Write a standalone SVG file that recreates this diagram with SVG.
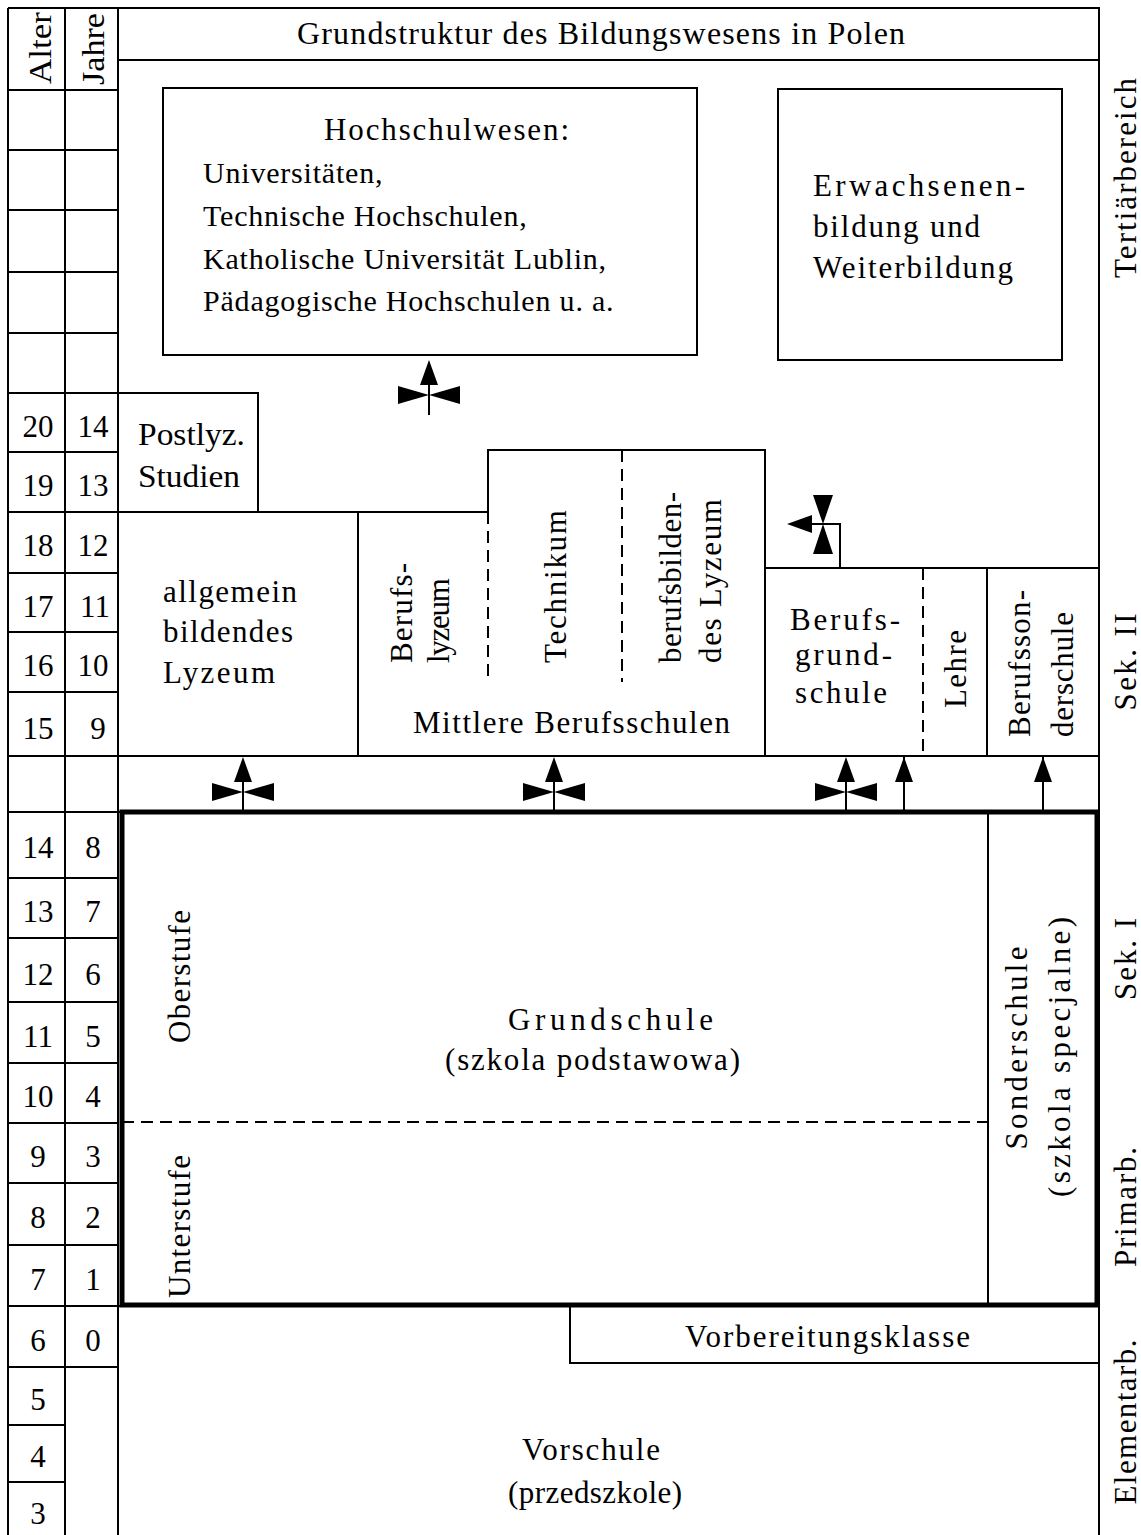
<svg xmlns="http://www.w3.org/2000/svg" width="1141" height="1535" viewBox="0 0 1141 1535">
<style>
.ln{stroke:#000;stroke-width:2;fill:none}
.dash{stroke:#000;stroke-width:2;fill:none;stroke-dasharray:12 7}
.thick{stroke:#000;stroke-width:5;fill:none}
text{font-family:"Liberation Serif","Times New Roman",serif;font-size:31px;fill:#000}
.num{font-size:31px;text-anchor:middle}
.c{text-anchor:middle}
.hs{font-size:30px;letter-spacing:0.8px}
.ah{fill:#000;stroke:none}
</style>
<defs>
<g id="xarrow">
<line x1="0" y1="-22" x2="0" y2="20" stroke="#000" stroke-width="2"/>
<polygon class="ah" points="0,-35 -9,-10 9,-10"/>
<polygon class="ah" points="-31,-9 -31,9 0,0"/>
<polygon class="ah" points="31,-9 31,9 0,0"/>
</g>
<g id="uparrow">
<line x1="0" y1="-30" x2="0" y2="25" stroke="#000" stroke-width="2"/>
<polygon class="ah" points="0,-30 -9,-5 9,-5"/>
</g>
</defs>
<rect x="0" y="0" width="1141" height="1535" fill="#fff"/>

<g id="frame">
<path class="ln" d="M8,8 H1099 V1535 M8,8 V1535 M65,8 V1535 M118,8 V1535 M118,60 H1099"/>
<path class="ln" d="M8,90 H118 M8,150 H118 M8,210 H118 M8,272 H118 M8,333 H118 M8,393 H118 M8,452 H118 M8,512 H118 M8,573 H118 M8,632 H118 M8,692 H118 M8,756 H1099 M8,812 H122 M8,878 H118 M8,938 H118 M8,1002 H118 M8,1063 H118 M8,1123 H118 M8,1183 H118 M8,1245 H118 M8,1306 H122 M8,1367 H118 M8,1425 H65 M8,1482 H65"/>
<text class="c" transform="translate(51,48) rotate(-90)" textLength="72" lengthAdjust="spacingAndGlyphs">Alter</text>
<text class="c" transform="translate(104,49) rotate(-90)" textLength="72" lengthAdjust="spacingAndGlyphs">Jahre</text>
<text class="c" x="601" y="44" style="font-size:32px" textLength="608" lengthAdjust="spacing">Grundstruktur des Bildungswesens in Polen</text>
</g>

<g id="ages">
<text class="num" x="38" y="437">20</text><text class="num" x="93" y="437">14</text>
<text class="num" x="38" y="496">19</text><text class="num" x="93" y="496">13</text>
<text class="num" x="38" y="556">18</text><text class="num" x="93" y="556">12</text>
<text class="num" x="38" y="617">17</text><text class="num" x="95" y="617">11</text>
<text class="num" x="38" y="676">16</text><text class="num" x="93" y="676">10</text>
<text class="num" x="38" y="739">15</text><text class="num" x="98" y="739">9</text>
<text class="num" x="38" y="858">14</text><text class="num" x="93" y="858">8</text>
<text class="num" x="38" y="922">13</text><text class="num" x="93" y="922">7</text>
<text class="num" x="38" y="985">12</text><text class="num" x="93" y="985">6</text>
<text class="num" x="38" y="1047">11</text><text class="num" x="93" y="1047">5</text>
<text class="num" x="38" y="1107">10</text><text class="num" x="93" y="1107">4</text>
<text class="num" x="38" y="1167">9</text><text class="num" x="93" y="1167">3</text>
<text class="num" x="38" y="1228">8</text><text class="num" x="93" y="1228">2</text>
<text class="num" x="38" y="1290">7</text><text class="num" x="93" y="1290">1</text>
<text class="num" x="38" y="1351">6</text><text class="num" x="93" y="1351">0</text>
<text class="num" x="38" y="1410">5</text>
<text class="num" x="38" y="1467">4</text>
<text class="num" x="38" y="1524">3</text>
</g>

<g id="stages">
<text class="c" transform="translate(1136,178) rotate(-90)" textLength="200" lengthAdjust="spacing">Tertiärbereich</text>
<text class="c" transform="translate(1136,662) rotate(-90)" textLength="97" lengthAdjust="spacing">Sek. II</text>
<text class="c" transform="translate(1136,959) rotate(-90)" textLength="82" lengthAdjust="spacing">Sek. I</text>
<text class="c" transform="translate(1136,1207) rotate(-90)" textLength="120" lengthAdjust="spacing">Primarb.</text>
<text class="c" transform="translate(1136,1422) rotate(-90)" textLength="165" lengthAdjust="spacing">Elementarb.</text>
</g>

<g id="hochschulwesen">
<rect class="ln" x="163" y="88" width="534" height="267"/>
<text x="324" y="140" textLength="245" lengthAdjust="spacing">Hochschulwesen:</text>
<text class="hs" x="203" y="183">Universitäten,</text>
<text class="hs" x="203" y="226">Technische Hochschulen,</text>
<text class="hs" x="203" y="269">Katholische Universität Lublin,</text>
<text class="hs" x="203" y="311">Pädagogische Hochschulen u. a.</text>
</g>

<g id="erwachsenenbildung">
<rect class="ln" x="778" y="89" width="284" height="271"/>
<text x="813" y="196" textLength="212" lengthAdjust="spacing">Erwachsenen-</text>
<text x="813" y="237" textLength="167" lengthAdjust="spacing">bildung und</text>
<text x="813" y="278" textLength="200" lengthAdjust="spacing">Weiterbildung</text>
</g>

<g id="postlyz">
<path class="ln" d="M118,393 H258 V512"/>
<text x="138" y="445" textLength="107" lengthAdjust="spacingAndGlyphs">Postlyz.</text>
<text x="138" y="487" textLength="102" lengthAdjust="spacingAndGlyphs">Studien</text>
</g>

<g id="lyzeum">
<path class="ln" d="M118,512 H488 M358,512 V756"/>
<text x="163" y="602" textLength="134" lengthAdjust="spacing">allgemein</text>
<text x="163" y="642" textLength="130" lengthAdjust="spacing">bildendes</text>
<text x="163" y="683" textLength="112" lengthAdjust="spacing">Lyzeum</text>
</g>

<g id="mittlere-berufsschulen">
<path class="ln" d="M488,512 V450 H765 V756"/>
<path class="dash" d="M488,512 V682 M622,450 V682"/>
<text transform="translate(412,663) rotate(-90)" textLength="100" lengthAdjust="spacing">Berufs-</text>
<text transform="translate(449,663) rotate(-90)" textLength="85" lengthAdjust="spacing">lyzeum</text>
<text transform="translate(566,663) rotate(-90)" textLength="153" lengthAdjust="spacing">Technikum</text>
<text transform="translate(681,663) rotate(-90)" textLength="171" lengthAdjust="spacing">berufsbilden-</text>
<text transform="translate(721,663) rotate(-90)" textLength="164" lengthAdjust="spacing">des Lyzeum</text>
<text x="413" y="733" textLength="317" lengthAdjust="spacing">Mittlere Berufsschulen</text>
</g>

<g id="berufsgrundschule">
<path class="ln" d="M765,568 H1099 M987,568 V756"/>
<path class="dash" d="M923,568 V756"/>
<text x="790" y="630" textLength="110" lengthAdjust="spacing">Berufs-</text>
<text x="795" y="665" textLength="97" lengthAdjust="spacing">grund-</text>
<text x="795" y="703" textLength="92" lengthAdjust="spacing">schule</text>
<text transform="translate(966,708) rotate(-90)" textLength="78" lengthAdjust="spacing">Lehre</text>
<text transform="translate(1030,737) rotate(-90)" textLength="147" lengthAdjust="spacing">Berufsson-</text>
<text transform="translate(1073,737) rotate(-90)" textLength="125" lengthAdjust="spacing">derschule</text>
</g>

<g id="grundschule">
<rect class="thick" x="122" y="812" width="975" height="493"/>
<path class="dash" d="M122,1122 H988"/>
<text transform="translate(190,1043) rotate(-90)" textLength="133" lengthAdjust="spacing">Oberstufe</text>
<text transform="translate(190,1298) rotate(-90)" textLength="143" lengthAdjust="spacing">Unterstufe</text>
<text x="508" y="1030" textLength="205" lengthAdjust="spacing">Grundschule</text>
<text x="445" y="1070" textLength="295" lengthAdjust="spacing">(szkola podstawowa)</text>
</g>

<g id="sonderschule">
<path class="ln" d="M988,812 V1305"/>
<text class="c" transform="translate(1027,1048) rotate(-90)" textLength="203" lengthAdjust="spacing">Sonderschule</text>
<text class="c" transform="translate(1070,1057) rotate(-90)" textLength="280" lengthAdjust="spacing">(szkola specjalne)</text>
</g>

<g id="vorbereitungsklasse">
<path class="ln" d="M570,1305 V1363 H1099"/>
<text x="685" y="1347" textLength="285" lengthAdjust="spacing">Vorbereitungsklasse</text>
</g>

<g id="vorschule">
<text x="522" y="1460" textLength="138" lengthAdjust="spacing">Vorschule</text>
<text x="508" y="1503" textLength="174" lengthAdjust="spacing">(przedszkole)</text>
</g>

<g id="connectors">
<use href="#xarrow" x="429" y="395"/>
<use href="#xarrow" x="243" y="792"/>
<use href="#xarrow" x="554" y="792"/>
<use href="#xarrow" x="846" y="792"/>
<use href="#uparrow" x="904" y="787"/>
<use href="#uparrow" x="1043" y="787"/>
<path class="ln" d="M840,568 V524 H805"/>
<polygon class="ah" points="787,524 812,515 812,533"/>
<polygon class="ah" points="813,495 833,495 823,524"/>
<polygon class="ah" points="813,554 833,554 823,524"/>
</g>
</svg>
